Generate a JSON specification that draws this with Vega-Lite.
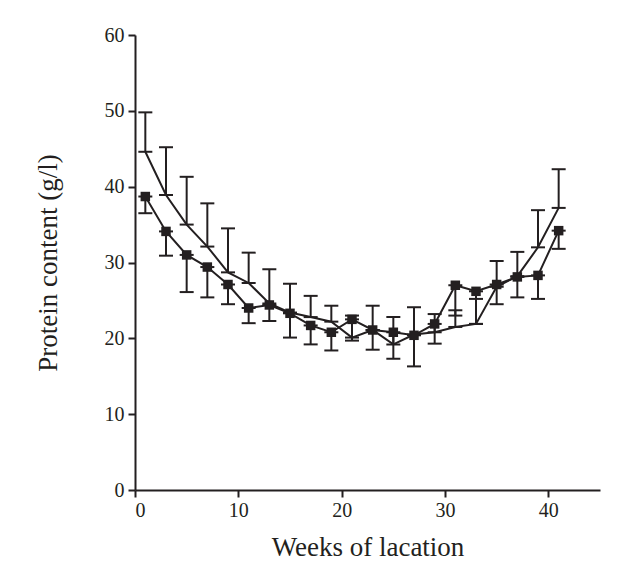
{
  "$schema": "https://vega.github.io/schema/vega-lite/v6.json",
  "autosize": "none",
  "width": 465,
  "height": 455,
  "padding": {"left": 135, "top": 35, "right": 33, "bottom": 83},
  "background": "white",
  "config": {
    "view": {"stroke": null}
  },
  "data": {
    "values": [
      {"week": 1, "series": "A", "value": 44.6, "err": 49.8},
      {"week": 3, "series": "A", "value": 38.9, "err": 45.2},
      {"week": 5, "series": "A", "value": 35.0, "err": 41.3},
      {"week": 7, "series": "A", "value": 32.1, "err": 37.8},
      {"week": 9, "series": "A", "value": 28.7, "err": 34.5},
      {"week": 11, "series": "A", "value": 27.3, "err": 31.3},
      {"week": 13, "series": "A", "value": 24.6, "err": 29.1},
      {"week": 15, "series": "A", "value": 23.4, "err": 27.2},
      {"week": 17, "series": "A", "value": 22.8, "err": 25.6},
      {"week": 19, "series": "A", "value": 22.2, "err": 24.3},
      {"week": 21, "series": "A", "value": 20.1, "err": 23.0},
      {"week": 23, "series": "A", "value": 21.1, "err": 24.3},
      {"week": 25, "series": "A", "value": 19.2, "err": 22.8},
      {"week": 27, "series": "A", "value": 20.5, "err": 24.1},
      {"week": 29, "series": "A", "value": 20.8, "err": 23.2},
      {"week": 31, "series": "A", "value": 21.5, "err": 23.7},
      {"week": 33, "series": "A", "value": 21.9, "err": 25.2},
      {"week": 35, "series": "A", "value": 26.8, "err": 30.2},
      {"week": 37, "series": "A", "value": 28.2, "err": 31.4},
      {"week": 39, "series": "A", "value": 32.0, "err": 36.9},
      {"week": 41, "series": "A", "value": 37.2, "err": 42.3},
      {"week": 1, "series": "B", "value": 38.7, "err": 36.5},
      {"week": 3, "series": "B", "value": 34.1, "err": 30.9},
      {"week": 5, "series": "B", "value": 31.0, "err": 26.1},
      {"week": 7, "series": "B", "value": 29.4, "err": 25.4},
      {"week": 9, "series": "B", "value": 27.1, "err": 24.5},
      {"week": 11, "series": "B", "value": 24.0, "err": 22.0},
      {"week": 13, "series": "B", "value": 24.4, "err": 22.3},
      {"week": 15, "series": "B", "value": 23.3, "err": 20.1},
      {"week": 17, "series": "B", "value": 21.7, "err": 19.2},
      {"week": 19, "series": "B", "value": 20.8, "err": 18.4},
      {"week": 21, "series": "B", "value": 22.5, "err": 19.7},
      {"week": 23, "series": "B", "value": 21.1, "err": 18.5},
      {"week": 25, "series": "B", "value": 20.8, "err": 17.3},
      {"week": 27, "series": "B", "value": 20.4, "err": 16.3},
      {"week": 29, "series": "B", "value": 21.9, "err": 19.3},
      {"week": 31, "series": "B", "value": 27.0, "err": 23.0},
      {"week": 33, "series": "B", "value": 26.2, "err": 21.9},
      {"week": 35, "series": "B", "value": 27.1, "err": 24.5},
      {"week": 37, "series": "B", "value": 28.1, "err": 25.4},
      {"week": 39, "series": "B", "value": 28.3, "err": 25.2},
      {"week": 41, "series": "B", "value": 34.2, "err": 31.8}
    ]
  },
  "encoding": {
    "x": {
      "field": "week", "type": "quantitative",
      "scale": {"domain": [0, 45], "nice": false},
      "axis": {
        "values": [0, 10, 20, 30, 40], "title": "Weeks of lacation",
        "titlePadding": 14, "labelPadding": 3,
        "domainColor": "#231f20", "domainWidth": 2,
        "tickColor": "#231f20", "tickWidth": 2, "tickSize": 7,
        "labelFont": "Liberation Serif", "labelFontSize": 20, "labelColor": "#231f20",
        "titleFont": "Liberation Serif", "titleFontSize": 27, "titleFontWeight": "normal", "titleColor": "#231f20",
        "grid": false
      }
    }
  },
  "layer": [
    {
      "mark": {"type": "rule", "color": "#231f20", "strokeWidth": 2},
      "encoding": {
        "y": {"field": "value", "type": "quantitative"},
        "y2": {"field": "err"}
      }
    },
    {
      "mark": {"type": "tick", "orient": "horizontal", "color": "#231f20", "size": 14, "thickness": 2, "opacity": 1},
      "encoding": {
        "y": {"field": "err", "type": "quantitative"}
      }
    },
    {
      "mark": {"type": "tick", "orient": "horizontal", "color": "#231f20", "size": 14, "thickness": 2, "opacity": 1},
      "encoding": {
        "y": {"field": "value", "type": "quantitative"}
      }
    },
    {
      "mark": {"type": "line", "color": "#231f20", "strokeWidth": 2},
      "encoding": {
        "y": {
          "field": "value", "type": "quantitative",
          "scale": {"domain": [0, 60], "nice": false},
          "axis": {
            "values": [0, 10, 20, 30, 40, 50, 60], "title": "Protein content (g/l)",
            "titlePadding": 42, "labelPadding": 4,
            "domainColor": "#231f20", "domainWidth": 2,
            "tickColor": "#231f20", "tickWidth": 2, "tickSize": 7,
            "labelFont": "Liberation Serif", "labelFontSize": 20, "labelColor": "#231f20",
            "titleFont": "Liberation Serif", "titleFontSize": 27, "titleFontWeight": "normal", "titleColor": "#231f20",
            "grid": false
          }
        },
        "detail": {"field": "series"}
      }
    },
    {
      "transform": [{"filter": "datum.series === 'B'"}],
      "mark": {"type": "point", "shape": "square", "filled": true, "color": "#231f20", "size": 90, "opacity": 1},
      "encoding": {
        "y": {"field": "value", "type": "quantitative"}
      }
    }
  ]
}
